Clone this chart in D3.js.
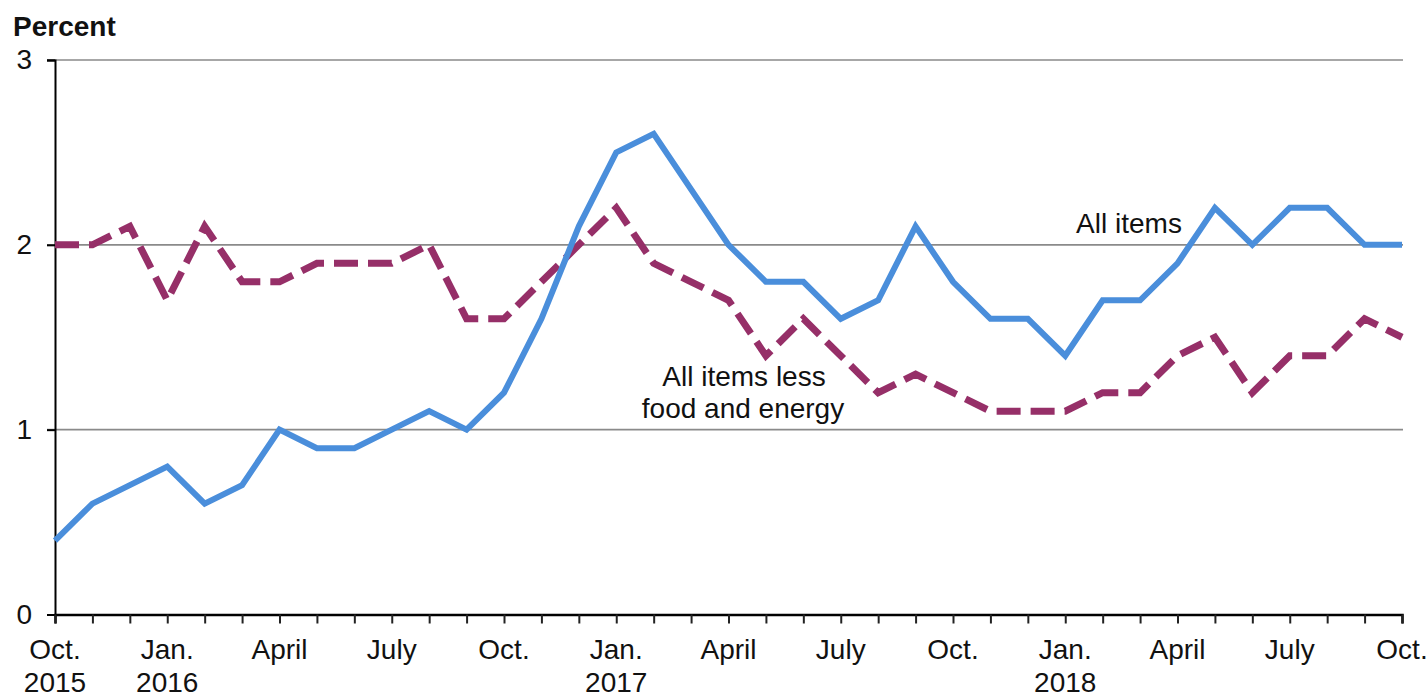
<!DOCTYPE html>
<html>
<head>
<meta charset="utf-8">
<script src="https://cdn.jsdelivr.net/npm/d3@7"></script>
<style>
  html, body { margin: 0; padding: 0; background: #fff; }
  svg { display: block; }
  text { font-family: "Liberation Sans", Arial, sans-serif; fill: #111; }
</style>
</head>
<body>
<svg id="chart"></svg>
<script>
// months from Oct. 2015 to Oct. 2018
const months = d3.range(37);

const allItems = [0.4, 0.6, 0.7, 0.8, 0.6, 0.7, 1.0, 0.9, 0.9, 1.0, 1.1, 1.0,
  1.2, 1.6, 2.1, 2.5, 2.6, 2.3, 2.0, 1.8, 1.8, 1.6, 1.7, 2.1,
  1.8, 1.6, 1.6, 1.4, 1.7, 1.7, 1.9, 2.2, 2.0, 2.2, 2.2, 2.0, 2.0];

const lessFoodEnergy = [2.0, 2.0, 2.1, 1.7, 2.1, 1.8, 1.8, 1.9, 1.9, 1.9, 2.0, 1.6,
  1.6, 1.8, 2.0, 2.2, 1.9, 1.8, 1.7, 1.4, 1.6, 1.4, 1.2, 1.3,
  1.2, 1.1, 1.1, 1.1, 1.2, 1.2, 1.4, 1.5, 1.2, 1.4, 1.4, 1.6, 1.5];

const monthLabels = ['Oct.', 'Jan.', 'April', 'July'];   // every 3rd month, repeating
const yearLabels = { 0: '2015', 3: '2016', 15: '2017', 27: '2018' };
const yTicks = [0, 1, 2, 3];

const width = 1427, height = 694;
const svg = d3.select('#chart').attr('width', width).attr('height', height);

const x = d3.scaleLinear().domain([0, 36]).range([55, 1402]);
const y = d3.scaleLinear().domain([0, 3]).range([614.5, 60]);

// gridlines
svg.append('g')
  .selectAll('line')
  .data(yTicks.filter(d => d > 0))
  .enter().append('line')
  .attr('x1', 47).attr('x2', 1403)
  .attr('y1', d => y(d)).attr('y2', d => y(d))
  .attr('stroke', '#8a8a8a')
  .attr('stroke-width', 1.6);

// y axis
const yAxis = svg.append('g').attr('transform', 'translate(55,0)')
  .call(d3.axisLeft(y).tickValues(yTicks).tickSize(8).tickPadding(15).tickFormat(d3.format('d')));
yAxis.select('.domain').attr('stroke', '#000').attr('stroke-width', 2);
yAxis.selectAll('.tick line').attr('stroke', '#000').attr('stroke-width', 2);
yAxis.selectAll('.tick text')
  .style('font-family', '"Liberation Sans", Arial, sans-serif')
  .style('font-size', '28px').attr('fill', '#111');

// x axis
const xAxis = svg.append('g').attr('transform', `translate(0,${y(0)})`)
  .call(d3.axisBottom(x).tickValues(months).tickSize(9).tickFormat(''));
xAxis.select('.domain').attr('stroke', '#000').attr('stroke-width', 2.5);
xAxis.selectAll('.tick line').attr('stroke', '#222').attr('stroke-width', 2);

const labelG = svg.append('g')
  .style('font-size', '28px')
  .attr('text-anchor', 'middle');
months.filter(i => i % 3 === 0).forEach(i => {
  labelG.append('text').attr('x', x(i)).attr('y', 659).text(monthLabels[(i / 3) % 4]);
  if (yearLabels[i]) labelG.append('text').attr('x', x(i)).attr('y', 692).text(yearLabels[i]);
});

// lines
const line = d3.line().x((d, i) => x(i)).y(d => y(d));

svg.append('path')
  .datum(lessFoodEnergy)
  .attr('d', line)
  .attr('fill', 'none')
  .attr('stroke', '#962f68')
  .attr('stroke-width', 7)
  .attr('stroke-dasharray', '24 10');

svg.append('path')
  .datum(allItems)
  .attr('d', line)
  .attr('fill', 'none')
  .attr('stroke', '#4a8edb')
  .attr('stroke-width', 6)
  .attr('stroke-linejoin', 'miter');

// annotations
svg.append('text').attr('x', 13).attr('y', 36)
  .style('font-size', '28px').style('font-weight', 'bold').text('Percent');

svg.append('text').attr('x', 1129).attr('y', 233)
  .attr('text-anchor', 'middle').style('font-size', '28px').text('All items');

const ann = svg.append('text').attr('text-anchor', 'middle').style('font-size', '28px');
ann.append('tspan').attr('x', 744).attr('y', 386).text('All items less');
ann.append('tspan').attr('x', 743).attr('y', 418).text('food and energy');
</script>
</body>
</html>
